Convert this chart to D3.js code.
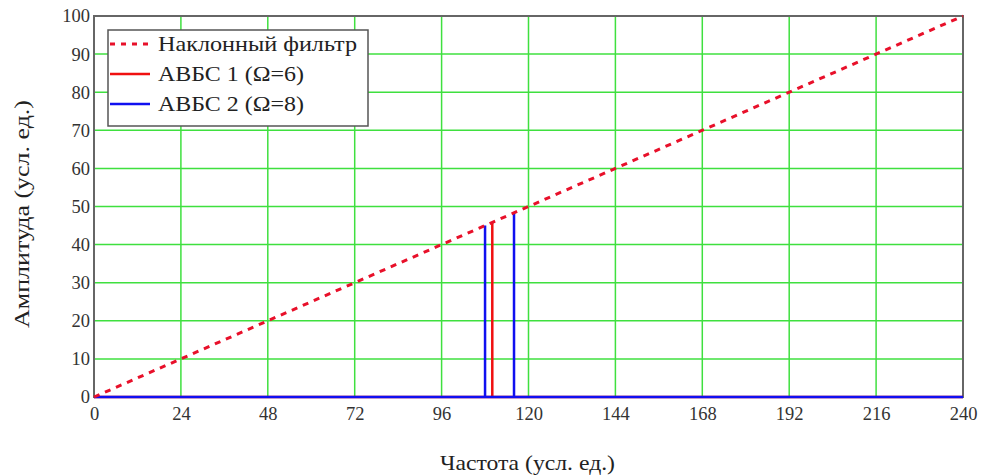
<!DOCTYPE html>
<html><head><meta charset="utf-8">
<script src="https://cdn.jsdelivr.net/npm/d3@7"></script>
<style>body{margin:0;background:#fff}svg{display:block}text{font-family:"Liberation Serif","Times New Roman",serif}</style>
</head><body>
<svg id="c" width="984" height="475"></svg>
<script>
const xTicks = [0,24,48,72,96,120,144,168,192,216,240];
const yTicks = [0,10,20,30,40,50,60,70,80,90,100];
const slopeLine = [[0,0],[240,100]];
const abvs1Freq = [110];
const abvs1Amp = [45.8];
const abvs2Freq = [108,116];
const abvs2Amp = [45,48.3];
const legendLabels = ["Наклонный фильтр","АВБС 1 (Ω=6)","АВБС 2 (Ω=8)"];

const svg = d3.select("#c");
const L=94, R=963, T=16, B=397;
const x = d3.scaleLinear().domain([0,240]).range([L,R]);
const y = d3.scaleLinear().domain([0,100]).range([B,T]);
const font = "Liberation Serif, Times New Roman, serif";
const green = "#3fe03f";

// grid
svg.append("g").selectAll("line").data(xTicks.slice(1,-1)).join("line")
  .attr("x1",d=>x(d)).attr("x2",d=>x(d)).attr("y1",T).attr("y2",B)
  .attr("stroke",green).attr("stroke-width",1.5);
svg.append("g").selectAll("line").data(yTicks.slice(1,-1)).join("line")
  .attr("x1",L).attr("x2",R).attr("y1",d=>y(d)).attr("y2",d=>y(d))
  .attr("stroke",green).attr("stroke-width",1.5);

// frame
svg.append("rect").attr("x",L).attr("y",T).attr("width",R-L).attr("height",B-T)
  .attr("fill","none").attr("stroke","#666").attr("stroke-width",2);

// axes labels via d3 axes
const ax = svg.append("g").attr("transform",`translate(0,${B})`)
  .call(d3.axisBottom(x).tickValues(xTicks).tickSize(0).tickPadding(10));
ax.select(".domain").remove();
ax.attr("font-family",font);
ax.selectAll("text").style("font-family",font).attr("font-size",18.5).attr("fill","#333");
const ay = svg.append("g").attr("transform",`translate(${L},0)`)
  .call(d3.axisLeft(y).tickValues(yTicks).tickSize(0).tickPadding(4));
ay.select(".domain").remove();
ay.attr("font-family",font);
ay.selectAll("text").style("font-family",font).attr("font-size",18.5).attr("fill","#333");

const line = d3.line().x(d=>x(d[0])).y(d=>y(d[1]));
function pulses(freqs, amps){
  const pts=[[0,0]];
  freqs.forEach((f,i)=>{pts.push([f,0],[f,amps[i]],[f,0]);});
  pts.push([240,0]);
  return pts;
}
svg.append("path").attr("d",line(pulses(abvs1Freq,abvs1Amp)))
  .attr("fill","none").attr("stroke","#f01010").attr("stroke-width",2.5);
svg.append("path").attr("d",line(pulses(abvs2Freq,abvs2Amp)))
  .attr("fill","none").attr("stroke","#1010f0").attr("stroke-width",2.5);

// slope
svg.append("path").attr("d",line(slopeLine))
  .attr("fill","none").attr("stroke","#e8102a").attr("stroke-width",3)
  .attr("stroke-dasharray","6,6");

// legend
const lg = svg.append("g");
lg.append("rect").attr("x",108).attr("y",30).attr("width",260).attr("height",96)
  .attr("fill","#fff").attr("stroke","#555").attr("stroke-width",1.5);
const lstyles=[{c:"#e8102a",d:"5,6",w:3},{c:"#f01010",d:null,w:2.5},{c:"#1010f0",d:null,w:2.5}];
const lwidths=[199,146,146];
legendLabels.forEach((t,i)=>{
  const yy = 44 + i*30;
  lg.append("line").attr("x1",110).attr("x2",150).attr("y1",yy).attr("y2",yy)
    .attr("stroke",lstyles[i].c).attr("stroke-width",lstyles[i].w)
    .attr("stroke-dasharray",lstyles[i].d);
  lg.append("text").attr("x",158).attr("y",yy+7).text(t)
    .attr("font-size",21).attr("fill","#222")
    .attr("textLength",lwidths[i]).attr("lengthAdjust","spacingAndGlyphs");
});

// titles
svg.append("text").attr("x",440).attr("y",470)
  .attr("font-size",21).attr("fill","#222").text("Частота (усл. ед.)")
  .attr("textLength",175).attr("lengthAdjust","spacingAndGlyphs");
svg.append("text").attr("transform","translate(29,328) rotate(-90)")
  .attr("font-size",21).attr("fill","#222").text("Амплитуда (усл. ед.)")
  .attr("textLength",228).attr("lengthAdjust","spacingAndGlyphs");
</script>
</body></html>
